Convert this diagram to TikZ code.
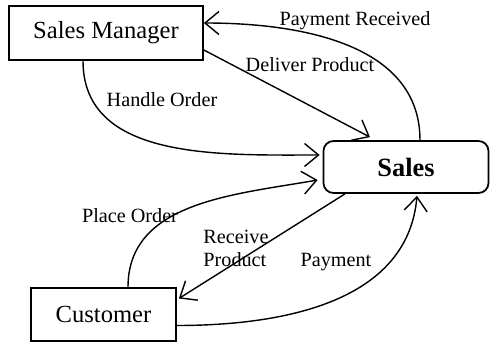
\documentclass[tikz,border=0pt]{standalone}
\usepackage{fontspec}
\setmainfont{Liberation Serif}
\usetikzlibrary{arrows.meta}

\begin{document}
\begin{tikzpicture}[>={Straight Barb[length=2.8mm,width=4.6mm]},
  box/.style={draw,line width=1pt,minimum height=1.06cm,inner sep=0pt,
    font=\fontsize{14}{16}\selectfont},
  flow/.style={->,line width=0.8pt},
  lbl/.style={font=\fontsize{11.5}{13}\selectfont,inner sep=0pt}]
  \useasboundingbox (0,0) rectangle (9.8,6.92);
  % Boxes
  \node[box,minimum width=3.88cm,minimum height=1.08cm] (sm) at (2.12,6.26) {Sales Manager};
  \node[box,rounded corners=2mm,minimum width=3.3cm,minimum height=1.04cm,
    font=\fontsize{15}{17}\selectfont\bfseries] (sales) at (8.12,3.58) {Sales};
  \node[box,minimum width=2.9cm] (cust) at (2.07,0.63) {Customer};
  % Flows between manager and sales
  \draw[flow] ([xshift=0.28cm]sales.north) to[out=90,in=0] ([yshift=0.2cm]sm.east);
  \draw[flow] ([yshift=-0.34cm]sm.east) -- ([xshift=-0.72cm,yshift=0.06cm]sales.north);
  \draw[flow] ([xshift=-0.46cm]sm.south) to[out=-90,in=180] ([xshift=-0.06cm,yshift=0.24cm]sales.west);
  % Flows between customer and sales
  \draw[flow] ([xshift=0.49cm]cust.north) to[out=90,in=190] ([xshift=-0.1cm,yshift=-0.26cm]sales.west);
  \draw[flow] ([xshift=-1.22cm]sales.south) -- ([xshift=0.04cm,yshift=0.32cm]cust.east);
  \draw[flow] ([yshift=-0.22cm]cust.east) to[out=0,in=-95] ([xshift=0.22cm,yshift=-0.04cm]sales.south);
  % Labels
  \node[lbl] (lpr) at (7.1,6.5) {Payment Received};
  \node[lbl] (ldp) at (6.2,5.62) {Deliver Product};
  \node[lbl] (lho) at (3.24,4.92) {Handle Order};
  \node[lbl] (lpo) at (2.6,2.6) {Place Order};
  \node[lbl,align=left] (lrp) at (4.72,1.96) {Receive\\Product};
  \node[lbl] (lpa) at (6.72,1.68) {Payment};
\end{tikzpicture}
\end{document}
